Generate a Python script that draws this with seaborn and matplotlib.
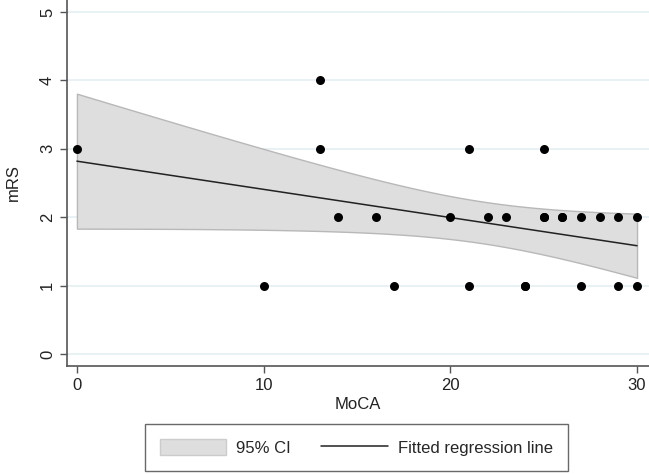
import numpy as np
import pandas as pd
import matplotlib
matplotlib.use("Agg")
import matplotlib.pyplot as plt
import seaborn as sns
from matplotlib.patches import Patch
from matplotlib.lines import Line2D

# a few points look overplotted (24,1), (25,2), (26,2)
moca = [0, 10, 13, 13, 14, 16, 17, 20, 21, 21, 22, 23, 24, 24, 25, 25, 25,
        26, 26, 27, 27, 28, 29, 29, 30, 30]
mrs = [3, 1, 4, 3, 2, 2, 1, 2, 3, 1, 2, 2, 1, 1, 3, 2, 2,
       2, 2, 2, 1, 2, 2, 1, 2, 1]
x_ticks = [0, 10, 20, 30]
y_ticks = [0, 1, 2, 3, 4, 5]

df = pd.DataFrame({"MoCA": moca, "mRS": mrs})

sns.set_style("white")
plt.rcParams["font.family"] = ["Liberation Sans", "DejaVu Sans"]

fig = plt.figure(figsize=(6.49, 4.74), dpi=100)
ax = fig.add_axes([0.103, 0.228, 0.897, 0.772])

for yv in y_ticks:
    ax.axhline(yv, color="#e4eff1", lw=1.2, zorder=0)

# analytic 95% CI of the mean prediction (Stata lfitci style)
x = np.asarray(moca, float)
y = np.asarray(mrs, float)
n = len(x)
b1, b0 = np.polyfit(x, y, 1)
resid = y - (b0 + b1 * x)
s = np.sqrt((resid ** 2).sum() / (n - 2))
grid = np.linspace(x.min(), x.max(), 100)
se = s * np.sqrt(1 / n + (grid - x.mean()) ** 2 / ((x - x.mean()) ** 2).sum())
tval = 2.064  # t(0.975, 24)
fit = b0 + b1 * grid
ax.fill_between(grid, fit - tval * se, fit + tval * se, facecolor="#dedede",
                edgecolor="#b8b8b8", lw=1, zorder=2)

sns.regplot(data=df, x="MoCA", y="mRS", ax=ax, ci=None, color="black",
            truncate=True,
            scatter_kws={"s": 42, "color": "black", "alpha": 1, "zorder": 4,
                         "linewidths": 0},
            line_kws={"lw": 1.1, "color": "#222222", "zorder": 3})

ax.set_xlim(-0.54, 30.64)
ax.set_ylim(-0.175, 5.175)
ax.set_xticks(x_ticks)
ax.set_yticks(y_ticks)
ax.set_xlabel("MoCA", fontsize=12, color="#222222", labelpad=3)
ax.set_ylabel("mRS", fontsize=12, color="#222222", labelpad=14)
ax.tick_params(axis="both", labelsize=12, labelcolor="#222222", length=5,
               width=1, direction="out", bottom=True, left=True, color="#555555")
for lab in ax.get_yticklabels():
    lab.set_rotation(90)
    lab.set_va("center")
sns.despine(ax=ax, top=True, right=True)
for sp in ["left", "bottom"]:
    ax.spines[sp].set_color("#555555")
    ax.spines[sp].set_linewidth(1.2)

handles = [Patch(facecolor="#dedede", edgecolor="#cccccc", label="95% CI"),
           Line2D([0], [0], color="#222222", lw=1.1, label="Fitted regression line")]
fig.legend(handles=handles, loc="center", bbox_to_anchor=(0.549, 0.056), ncol=2,
           frameon=True, fancybox=False, edgecolor="#444444", fontsize=12,
           handlelength=4.0, handleheight=1.1, columnspacing=1.8,
           borderpad=0.9, handletextpad=0.6)

fig.savefig("out.png", dpi=100)
